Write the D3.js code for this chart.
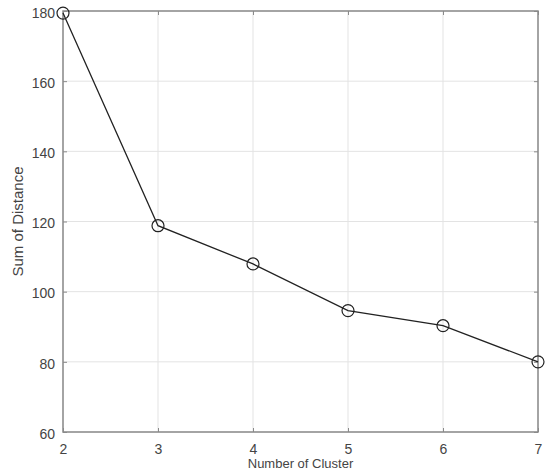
<!DOCTYPE html>
<html>
<head>
<meta charset="utf-8">
<script src="https://cdn.jsdelivr.net/npm/d3@7"></script>
<style>
    body { margin: 0; background: #fff; }
    svg text { font-family: "Liberation Sans", Arial, sans-serif; }
</style>
</head>
<body>
<div id="chart"></div>
<script>
    // values
    const clusters = [2, 3, 4, 5, 6, 7];
    const distances = [179.4, 118.8, 107.9, 94.6, 90.3, 80.0];
    const xTicks = [2, 3, 4, 5, 6, 7];
    const yTicks = [60, 80, 100, 120, 140, 160, 180];

    let width = 545,
        height = 472,
        margin = { top: 11, right: 7, bottom: 40, left: 63 },
        chartWidth = width - margin.left - margin.right,
        chartHeight = height - margin.top - margin.bottom;

    let svg = d3.select('#chart').append('svg')
        .attr('width', width)
        .attr('height', height);

    let g = svg.append('g')
        .attr('transform', `translate(${margin.left}, ${margin.top})`);

    let scaleX = d3.scaleLinear().domain([2, 7]).range([0, chartWidth]);
    let scaleY = d3.scaleLinear().domain([60, 180]).range([chartHeight, 0]);

    // grid
    g.append('g')
        .selectAll('line')
        .data(xTicks)
        .enter()
        .append('line')
        .attr('x1', (d) => scaleX(d))
        .attr('x2', (d) => scaleX(d))
        .attr('y1', 0)
        .attr('y2', chartHeight)
        .attr('stroke', '#e3e3e3')
        .attr('stroke-width', 1);

    g.append('g')
        .selectAll('line')
        .data(yTicks)
        .enter()
        .append('line')
        .attr('x1', 0)
        .attr('x2', chartWidth)
        .attr('y1', (d) => scaleY(d))
        .attr('y2', (d) => scaleY(d))
        .attr('stroke', '#e3e3e3')
        .attr('stroke-width', 1);

    // axes with inward ticks
    let axisColor = '#8a8a8a';
    let xAxis = d3.axisBottom(scaleX).tickValues(xTicks).tickFormat(d3.format('d'))
        .tickSizeInner(-4).tickSizeOuter(0).tickPadding(12);
    let yAxis = d3.axisLeft(scaleY).tickValues(yTicks).tickFormat(d3.format('d'))
        .tickSizeInner(-4).tickSizeOuter(0).tickPadding(8);

    let gx = g.append('g')
        .attr('transform', `translate(0, ${chartHeight})`)
        .call(xAxis);
    let gy = g.append('g').call(yAxis);

    // top and right ticks (boxed axes)
    g.append('g')
        .call(d3.axisTop(scaleX).tickValues(xTicks).tickSizeInner(-4).tickSizeOuter(0).tickFormat(''));
    g.append('g')
        .attr('transform', `translate(${chartWidth}, 0)`)
        .call(d3.axisRight(scaleY).tickValues(yTicks).tickSizeInner(-4).tickSizeOuter(0).tickFormat(''));

    g.selectAll('.domain').attr('stroke', 'none');
    g.selectAll('.tick line').attr('stroke', axisColor);
    g.selectAll('.tick text')
        .attr('fill', '#444')
        .attr('font-size', 14)
        .style('font-family', '"Liberation Sans", Arial, sans-serif');
    gy.selectAll('.tick text').attr('dy', '0.45em');

    // box
    g.append('rect')
        .attr('width', chartWidth)
        .attr('height', chartHeight)
        .attr('fill', 'none')
        .attr('stroke', axisColor)
        .attr('stroke-width', 1.5);

    // line and markers
    let points = clusters.map((c, i) => ({ c, v: distances[i] }));

    g.append('path')
        .datum(points)
        .attr('fill', 'none')
        .attr('stroke', '#222')
        .attr('stroke-width', 1.3)
        .attr('d', d3.line().x((d) => scaleX(d.c)).y((d) => scaleY(d.v)));

    g.selectAll('circle')
        .data(points)
        .enter()
        .append('circle')
        .attr('cx', (d) => scaleX(d.c))
        .attr('cy', (d) => scaleY(d.v))
        .attr('r', 6)
        .attr('fill', 'none')
        .attr('stroke', '#222')
        .attr('stroke-width', 1.2);

    // axis labels (cut at the bottom edge in the reference; kept readable here)
    svg.append('text')
        .attr('x', margin.left + chartWidth / 2)
        .attr('y', 468)
        .attr('text-anchor', 'middle')
        .attr('font-size', 13)
        .attr('fill', '#444')
        .text('Number of Cluster');

    svg.append('text')
        .attr('transform', `translate(23, ${margin.top + chartHeight / 2}) rotate(-90)`)
        .attr('text-anchor', 'middle')
        .attr('font-size', 15)
        .attr('fill', '#444')
        .text('Sum of Distance');
</script>
</body>
</html>
